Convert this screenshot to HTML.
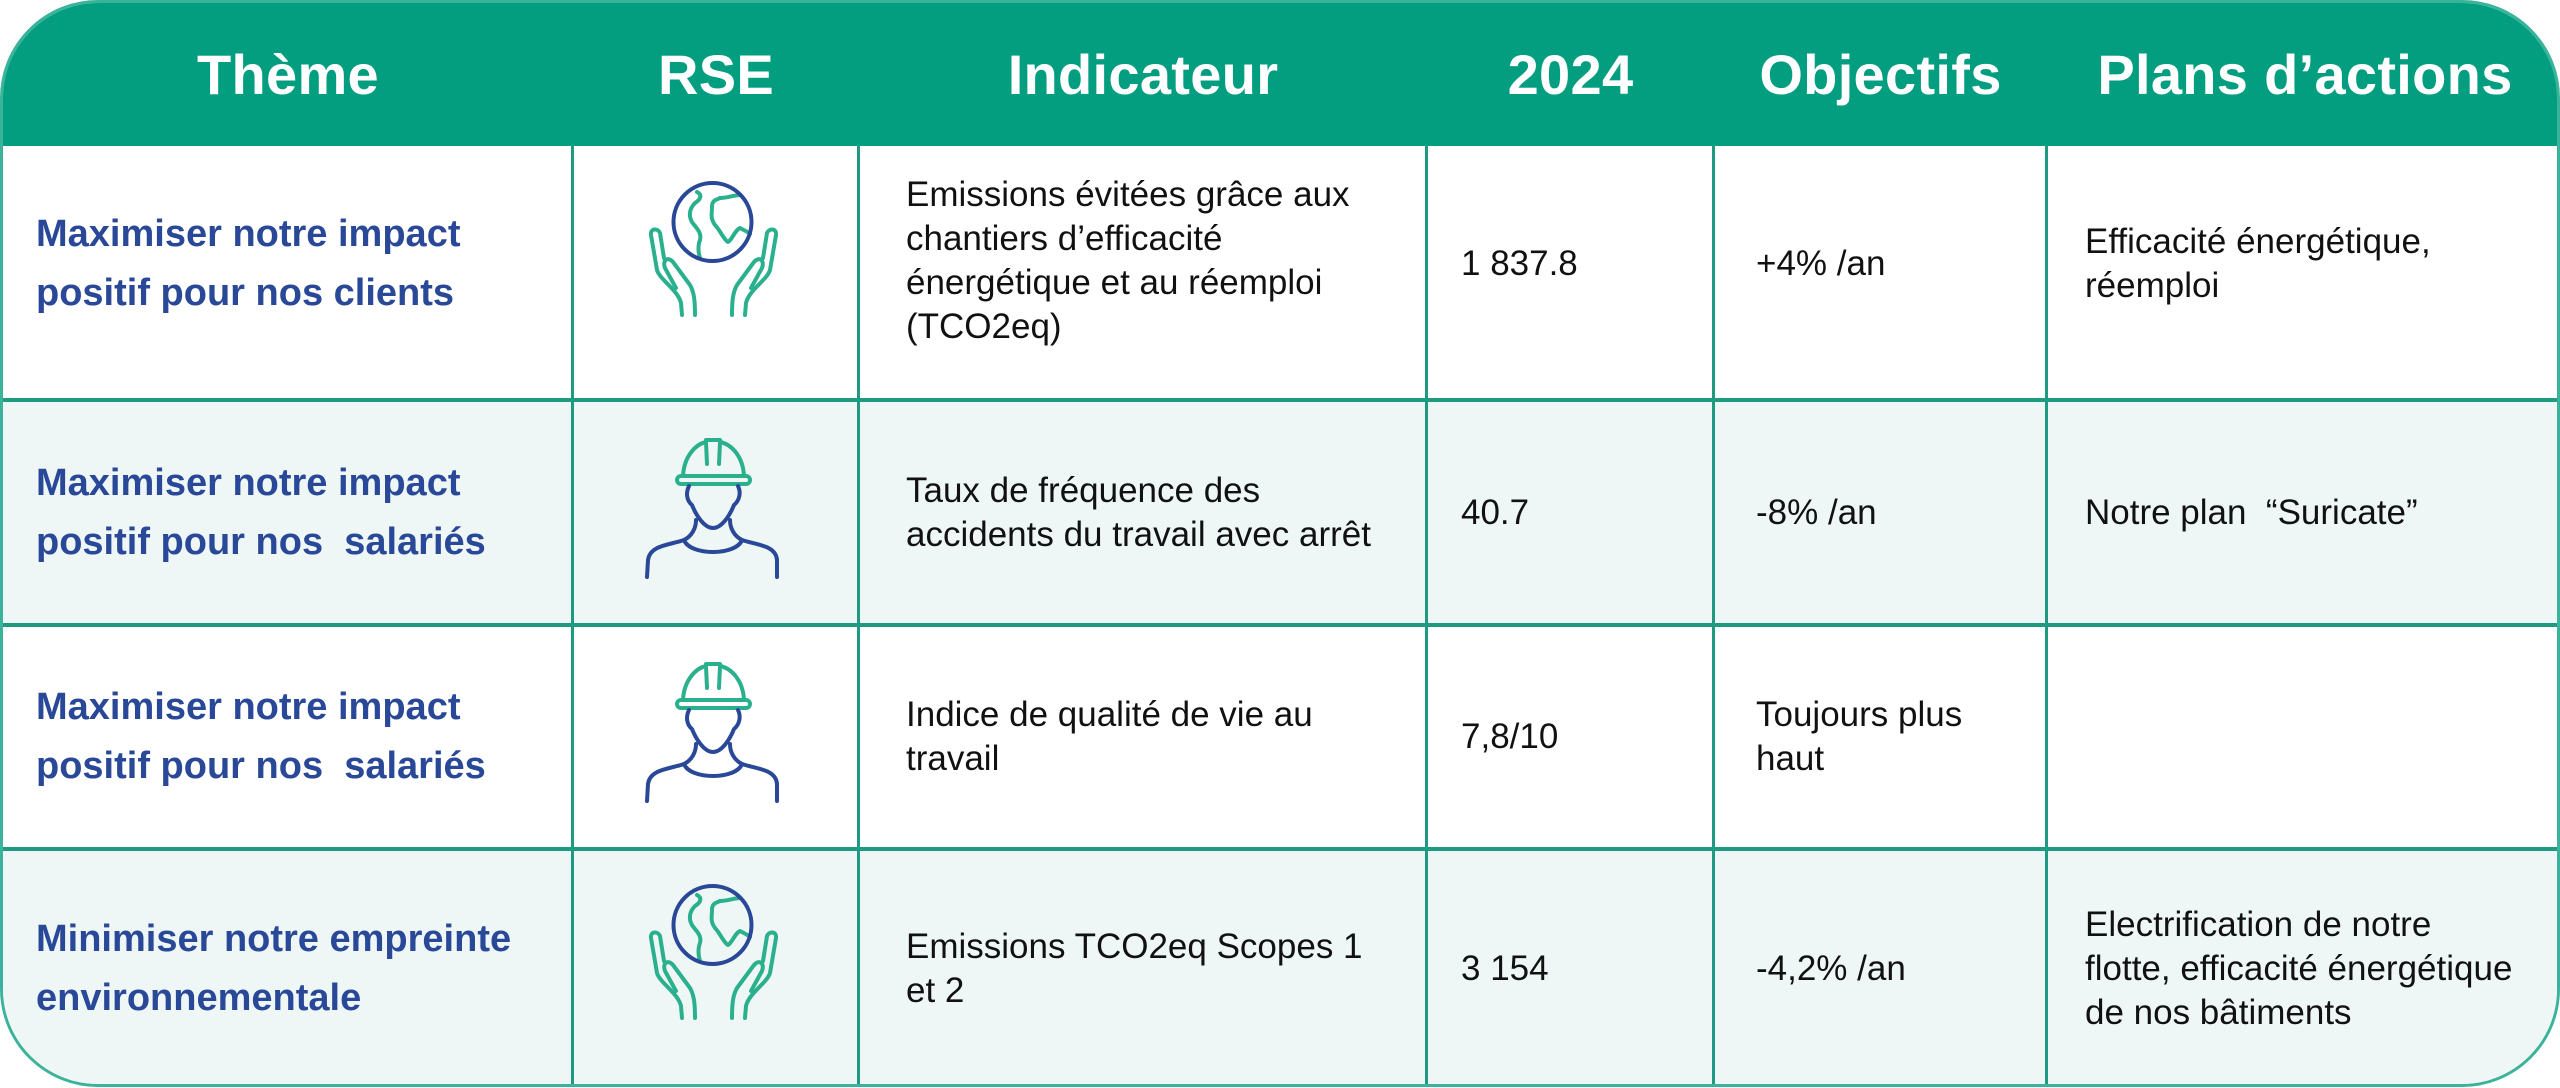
<!DOCTYPE html>
<html><head><meta charset="utf-8">
<style>
html,body{margin:0;padding:0;background:#fff;}
body{width:2560px;height:1088px;position:relative;overflow:hidden;}
#t{position:absolute;left:0;top:0;width:2560px;height:1087px;box-sizing:border-box;border:3px solid #3bb39a;border-radius:98px;overflow:hidden;background:#fff;}
.hd{position:absolute;left:0;top:0;width:2560px;height:143px;background:#039d80;}
.h{position:absolute;top:0;height:143px;display:flex;align-items:center;justify-content:center;color:#fff;font:bold 56px "Liberation Sans",sans-serif;letter-spacing:0.3px;}
.row{position:absolute;left:0;width:2560px;}
.bg2{background:#eef7f6;}
.hl{position:absolute;left:0;width:2560px;height:4px;background:#1e9a81;}
.vl{position:absolute;top:143px;width:3px;height:950px;background:#1e9a81;}
.c{position:absolute;display:flex;align-items:center;font:35px/44px "Liberation Sans",sans-serif;color:#111;}
.th{font:bold 38px/59px "Liberation Sans",sans-serif;color:#2a4898;}
svg{position:absolute;overflow:visible;}
</style></head><body>
<div id="t">
<div class="hd"></div>
<div class="h" style="left:0;width:570px">Thème</div>
<div class="h" style="left:570px;width:286px">RSE</div>
<div class="h" style="left:856px;width:568px">Indicateur</div>
<div class="h" style="left:1424px;width:287px">2024</div>
<div class="h" style="left:1711px;width:333px">Objectifs</div>
<div class="h" style="left:2044px;width:516px">Plans d’actions</div>

<div class="row bg2" style="top:397px;height:225px"></div>
<div class="row bg2" style="top:846px;height:250px"></div>

<div class="hl" style="top:395px"></div>
<div class="hl" style="top:620px"></div>
<div class="hl" style="top:844px"></div>
<div class="vl" style="left:568px"></div>
<div class="vl" style="left:854px"></div>
<div class="vl" style="left:1422px"></div>
<div class="vl" style="left:1709px"></div>
<div class="vl" style="left:2042px"></div>

<!-- row 1 -->
<div class="c th" style="left:33px;top:134px;height:254px">Maximiser notre impact<br>positif pour nos clients</div>
<div class="c" style="left:903px;top:131px;height:254px">Emissions évitées grâce aux<br>chantiers d’efficacité<br>énergétique et au réemploi<br>(TCO2eq)</div>
<div class="c" style="left:1458px;top:134px;height:254px">1 837.8</div>
<div class="c" style="left:1753px;top:134px;height:254px">+4% /an</div>
<div class="c" style="left:2082px;top:134px;height:254px">Efficacité énergétique,<br>réemploi</div>
<!-- row 2 -->
<div class="c th" style="left:33px;top:397px;height:225px">Maximiser notre impact<br>positif pour nos&nbsp; salariés</div>
<div class="c" style="left:903px;top:397px;height:225px">Taux de fréquence des<br>accidents du travail avec arrêt</div>
<div class="c" style="left:1458px;top:397px;height:225px">40.7</div>
<div class="c" style="left:1753px;top:397px;height:225px">-8% /an</div>
<div class="c" style="left:2082px;top:397px;height:225px">Notre plan&nbsp; “Suricate”</div>
<!-- row 3 -->
<div class="c th" style="left:33px;top:622px;height:224px">Maximiser notre impact<br>positif pour nos&nbsp; salariés</div>
<div class="c" style="left:903px;top:622px;height:224px">Indice de qualité de vie au<br>travail</div>
<div class="c" style="left:1458px;top:622px;height:224px">7,8/10</div>
<div class="c" style="left:1753px;top:622px;height:224px">Toujours plus<br>haut</div>
<!-- row 4 -->
<div class="c th" style="left:33px;top:846px;height:240px">Minimiser notre empreinte<br>environnementale</div>
<div class="c" style="left:903px;top:846px;height:240px">Emissions TCO2eq Scopes 1<br>et 2</div>
<div class="c" style="left:1458px;top:846px;height:240px">3 154</div>
<div class="c" style="left:1753px;top:846px;height:240px">-4,2% /an</div>
<div class="c" style="left:2082px;top:846px;height:240px">Electrification de notre<br>flotte, efficacité énergétique<br>de nos bâtiments</div>
</div>

<svg width="0" height="0"><defs>
<g id="globe" fill="none" stroke-linecap="round" stroke-linejoin="round" stroke-width="4">
<g stroke="#2bb08e">
<path d="M57,22 C63,25 60,30 55,33 C50,38 48,45 52,52 C56,58 62,62 60,70 C58,75 58,82 60,88"/>
<path d="M80,28 C76,30 72,30 72,37 C72,44 70,48 75,55 C80,60 84,70 88,72 C92,70 95,60 100,58 C104,60 108,62 110,64"/>
<path d="M80,28 C88,28 94,25 100,25"/>
<path d="M42,145 L41,133 C38,120 20,110 17,100 L11,65 C10,58 18,58 20,63 L24,88"/>
<path d="M36,118 L25,98 C22,90 28,86 33,92 L50,115 C54,122 55,130 55,145"/>
<path d="M105,145 L106,133 C109,120 127,110 130,100 L136,65 C137,58 129,58 127,63 L123,88"/>
<path d="M111,118 L122,98 C125,90 119,86 114,92 L97,115 C93,122 92,130 92,145"/>
</g>
<circle cx="72.5" cy="52" r="39" stroke="#2a4898"/>
</g>
<g id="worker" fill="none" stroke-linecap="round" stroke-linejoin="round" stroke-width="4">
<g stroke="#2bb08e">
<rect x="77" y="76" width="73" height="8" rx="4"/>
<path d="M83,76 C84,56 96,44 106,42 L106,40 L120,40 L120,42 C131,44 143,56 144,76"/>
<path d="M106,42 L107,64 M120,42 L119,64"/>
</g>
<g stroke="#2a4898">
<path d="M89,86 C86,92 86,100 92,105 C96,115 104,128 113,128 C122,128 130,115 134,105 C140,100 141,92 138,86"/>
<path d="M96,120 C96,128 92,136 84,140 C70,145 50,145 48,160 L47,177"/>
<path d="M130,120 C130,128 134,136 142,140 C156,145 176,145 177,160 L177,177"/>
<path d="M84,140 C90,156 136,156 142,140"/>
</g>
</g>
</defs></svg>
<svg style="left:640px;top:170px" width="150" height="160"><use href="#globe"/></svg>
<svg style="left:640px;top:873px" width="150" height="160"><use href="#globe"/></svg>
<svg style="left:600px;top:400px" width="240" height="220"><use href="#worker"/></svg>
<svg style="left:600px;top:624px" width="240" height="220"><use href="#worker"/></svg>
</body></html>
